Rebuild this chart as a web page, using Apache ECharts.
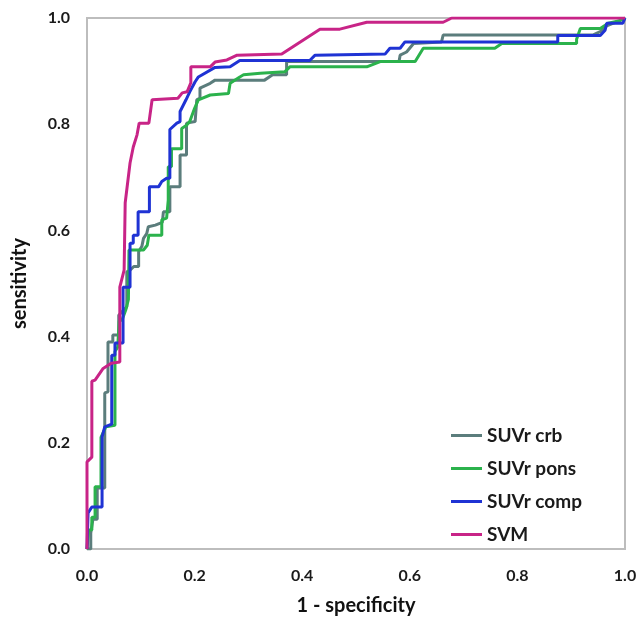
<!DOCTYPE html>
<html>
<head>
<meta charset="utf-8">
<script src="https://cdn.jsdelivr.net/npm/echarts@6/dist/echarts.min.js"></script>
<style>
html,body{margin:0;padding:0;background:#fff;}
#chart{width:640px;height:621px;}
</style>
</head>
<body>
<div id="chart"></div>
<script>
var seriesNames = ['SUVr crb', 'SUVr pons', 'SUVr comp', 'SVM'];
var tickValues = [0, 0.2, 0.4, 0.6, 0.8, 1.0];

var crbPoints = [[0,0],[0.007,0],[0.007,0.03],[0.011,0.056],[0.019,0.056],[0.019,0.115],[0.033,0.115],[0.033,0.294],[0.039,0.296],[0.039,0.39],[0.048,0.39],[0.048,0.403],[0.059,0.403],[0.059,0.44],[0.068,0.45],[0.074,0.456],[0.074,0.522],[0.080,0.525],[0.087,0.532],[0.096,0.532],[0.096,0.56],[0.102,0.57],[0.105,0.585],[0.111,0.594],[0.114,0.607],[0.127,0.610],[0.140,0.615],[0.142,0.635],[0.154,0.635],[0.154,0.682],[0.173,0.682],[0.173,0.742],[0.185,0.742],[0.185,0.802],[0.201,0.805],[0.204,0.846],[0.210,0.849],[0.210,0.868],[0.229,0.877],[0.238,0.883],[0.330,0.883],[0.345,0.893],[0.371,0.893],[0.371,0.918],[0.580,0.918],[0.582,0.930],[0.594,0.936],[0.607,0.952],[0.659,0.955],[0.662,0.968],[0.940,0.968],[0.955,0.975],[0.966,0.985],[0.990,0.995],[1,1]];

var ponsPoints = [[0,0],[0.003,0],[0.003,0.036],[0.009,0.036],[0.009,0.06],[0.015,0.06],[0.015,0.117],[0.026,0.117],[0.026,0.21],[0.035,0.23],[0.052,0.233],[0.052,0.372],[0.057,0.38],[0.060,0.43],[0.065,0.431],[0.072,0.450],[0.077,0.470],[0.078,0.563],[0.105,0.563],[0.112,0.572],[0.115,0.591],[0.139,0.591],[0.139,0.620],[0.148,0.623],[0.151,0.657],[0.151,0.720],[0.157,0.720],[0.157,0.754],[0.176,0.754],[0.176,0.792],[0.185,0.798],[0.191,0.805],[0.200,0.830],[0.207,0.846],[0.229,0.855],[0.263,0.858],[0.266,0.877],[0.284,0.889],[0.291,0.893],[0.322,0.896],[0.368,0.899],[0.377,0.908],[0.520,0.908],[0.545,0.918],[0.610,0.918],[0.625,0.943],[0.758,0.943],[0.771,0.952],[0.910,0.952],[0.910,0.960],[0.917,0.980],[0.954,0.980],[0.969,0.990],[0.990,0.995],[1,1]];

var compPoints = [[0,0],[0.002,0],[0.002,0.068],[0.009,0.079],[0.028,0.079],[0.028,0.211],[0.033,0.230],[0.046,0.235],[0.046,0.365],[0.052,0.365],[0.052,0.388],[0.067,0.388],[0.067,0.493],[0.080,0.493],[0.080,0.576],[0.086,0.576],[0.086,0.591],[0.095,0.591],[0.095,0.635],[0.116,0.635],[0.116,0.682],[0.133,0.682],[0.139,0.692],[0.148,0.698],[0.154,0.698],[0.154,0.790],[0.167,0.802],[0.173,0.805],[0.173,0.824],[0.184,0.846],[0.191,0.861],[0.201,0.880],[0.207,0.889],[0.238,0.907],[0.266,0.908],[0.284,0.920],[0.414,0.920],[0.424,0.930],[0.554,0.932],[0.563,0.943],[0.582,0.943],[0.591,0.955],[0.875,0.955],[0.875,0.967],[0.954,0.967],[0.963,0.977],[0.966,0.990],[0.996,0.990],[1,1]];

var svmPoints = [[0,0],[0,0.164],[0.009,0.173],[0.009,0.316],[0.015,0.318],[0.030,0.340],[0.045,0.350],[0.061,0.352],[0.061,0.493],[0.069,0.525],[0.071,0.652],[0.080,0.727],[0.086,0.757],[0.093,0.780],[0.097,0.802],[0.115,0.802],[0.121,0.846],[0.169,0.849],[0.177,0.859],[0.186,0.861],[0.193,0.878],[0.193,0.908],[0.229,0.908],[0.238,0.917],[0.260,0.921],[0.279,0.930],[0.362,0.932],[0.433,0.979],[0.470,0.979],[0.520,0.992],[0.662,0.992],[0.678,1.0],[1,1]];

var seriesColors = ['#5b7d7c', '#2bb24c', '#1f33d4', '#c82487'];
var allPoints = [crbPoints, ponsPoints, compPoints, svmPoints];

var chart = echarts.init(document.getElementById('chart'), null, {renderer: 'canvas'});
var font = 'Lato, "Liberation Sans", sans-serif';

var axisCommon = {
  type: 'value', min: 0, max: 1, interval: 0.2,
  axisLine: {show: false},
  axisTick: {show: false},
  splitLine: {show: false},
  nameTextStyle: {fontFamily: font, fontWeight: 'bold', fontSize: 20, color: '#111'},
  axisLabel: {fontFamily: font, fontWeight: 'bold', fontSize: 16, color: '#1a1a1a',
    formatter: function (v) { return v.toFixed(1); }}
};

chart.setOption({
  animation: false,
  backgroundColor: '#fff',
  grid: {left: 87, right: 15, top: 18, bottom: 72, show: true, borderColor: '#bdbdbd', borderWidth: 2, backgroundColor: 'transparent'},
  xAxis: Object.assign({}, axisCommon, {
    name: '1 - specificity', nameLocation: 'middle', nameGap: 47,
    axisLabel: Object.assign({}, axisCommon.axisLabel, {margin: 19})
  }),
  yAxis: Object.assign({}, axisCommon, {
    name: 'sensitivity', nameLocation: 'middle', nameGap: 57,
    axisLabel: Object.assign({}, axisCommon.axisLabel, {margin: 17})
  }),
  legend: {
    orient: 'vertical', left: 446, top: 420, itemGap: 12,
    itemWidth: 31, itemHeight: 3, icon: 'rect',
    textStyle: {fontFamily: font, fontWeight: 'bold', fontSize: 19, color: '#1a1a1a', lineHeight: 21},
    data: seriesNames
  },
  series: seriesNames.map(function (n, i) {
    return {
      name: n, type: 'line', data: allPoints[i], showSymbol: false, symbol: 'none',
      lineStyle: {width: 3, color: seriesColors[i]}, itemStyle: {color: seriesColors[i]},
      z: 2 + i
    };
  })
});
</script>
</body>
</html>
